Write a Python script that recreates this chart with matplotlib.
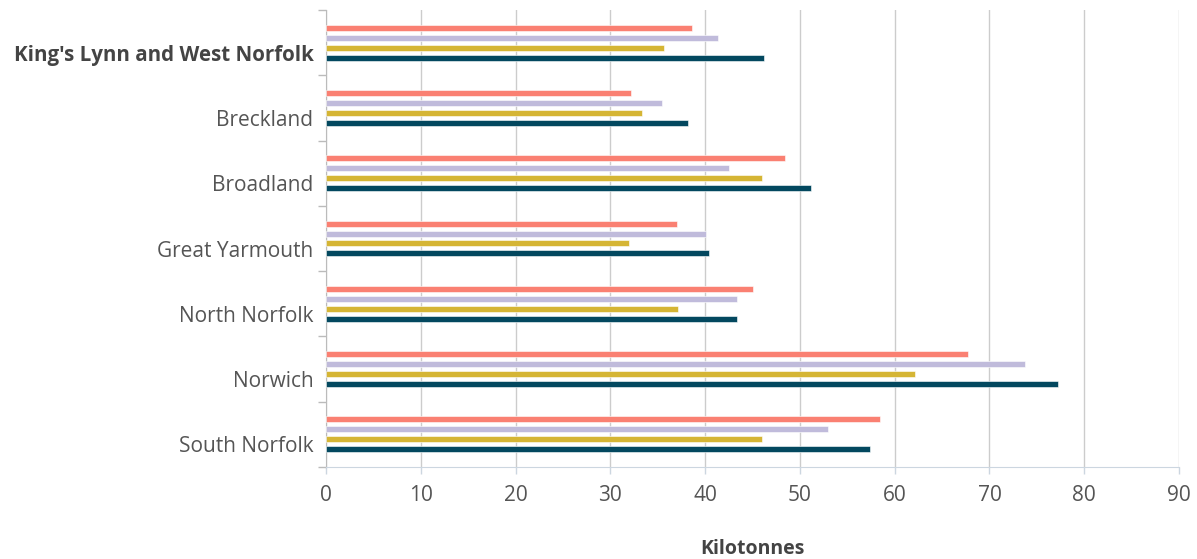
import matplotlib
matplotlib.use("Agg")
import matplotlib.pyplot as plt
import numpy as np

categories = ["King's Lynn and West Norfolk", "Breckland", "Broadland", "Great Yarmouth",
              "North Norfolk", "Norwich", "South Norfolk"]
series_a = [38.6, 32.2, 48.4, 37.0, 45.0, 67.7, 58.4]   # salmon (top bar)
series_b = [41.4, 35.4, 42.5, 40.1, 43.4, 73.7, 53.0]   # lavender
series_c = [35.7, 33.3, 46.0, 32.0, 37.1, 62.1, 46.0]   # gold
series_d = [46.2, 38.2, 51.2, 40.4, 43.4, 77.2, 57.4]   # dark teal (bottom bar)
x_ticks = [0, 10, 20, 30, 40, 50, 60, 70, 80, 90]
x_label = "Kilotonnes"

colors = ["#FA8072", "#C0BBDB", "#D5B534", "#03485F"]
series = [series_a, series_b, series_c, series_d]

plt.rcParams['font.family'] = ['Open Sans', 'DejaVu Sans']

fig = plt.figure(figsize=(11.97, 5.59), dpi=100)
ax = fig.add_axes([326/1197, 1-467/559, (1179-326)/1197, (467-10)/559])

y = np.arange(len(categories))
pitch = 0.153
h = 0.092
for i, (vals, c) in enumerate(zip(series, colors)):
    ax.barh(y + (i - 1.5) * pitch, vals, height=h, color=c, edgecolor='white',
            linewidth=0.4, zorder=3)

ax.set_xlim(0, 90)
ax.set_ylim(len(categories) - 0.5, -0.5)
ax.set_xticks(x_ticks)
ax.set_xticklabels([str(t) for t in x_ticks], fontsize=15, color='#555555')
ax.set_yticks(y + 0.155)
ax.set_yticklabels(categories, fontsize=15, color='#555555')
lbl0 = ax.get_yticklabels()[0]
lbl0.set_fontweight('bold')
lbl0.set_fontsize(14.8)
lbl0.set_color('#444444')
ax.tick_params(axis='y', length=0, pad=9)
ax.set_yticks(np.arange(-0.5, len(categories)), minor=True)
ax.tick_params(axis='y', which='minor', length=6, color='#bbbbbb', width=1)
ax.tick_params(axis='x', length=5, color='#ccd6e0', width=1, pad=8)

ax.grid(axis='x', color='#cccccc', linewidth=1, zorder=0)
for s in ['top', 'right']:
    ax.spines[s].set_visible(False)
ax.spines['left'].set_color('#bbbbbb')
ax.spines['bottom'].set_color('#ccd6e0')
ax.set_xlabel(x_label, fontsize=14, fontweight='bold', color='#444444', labelpad=24)

fig.savefig("out.png", dpi=100)
